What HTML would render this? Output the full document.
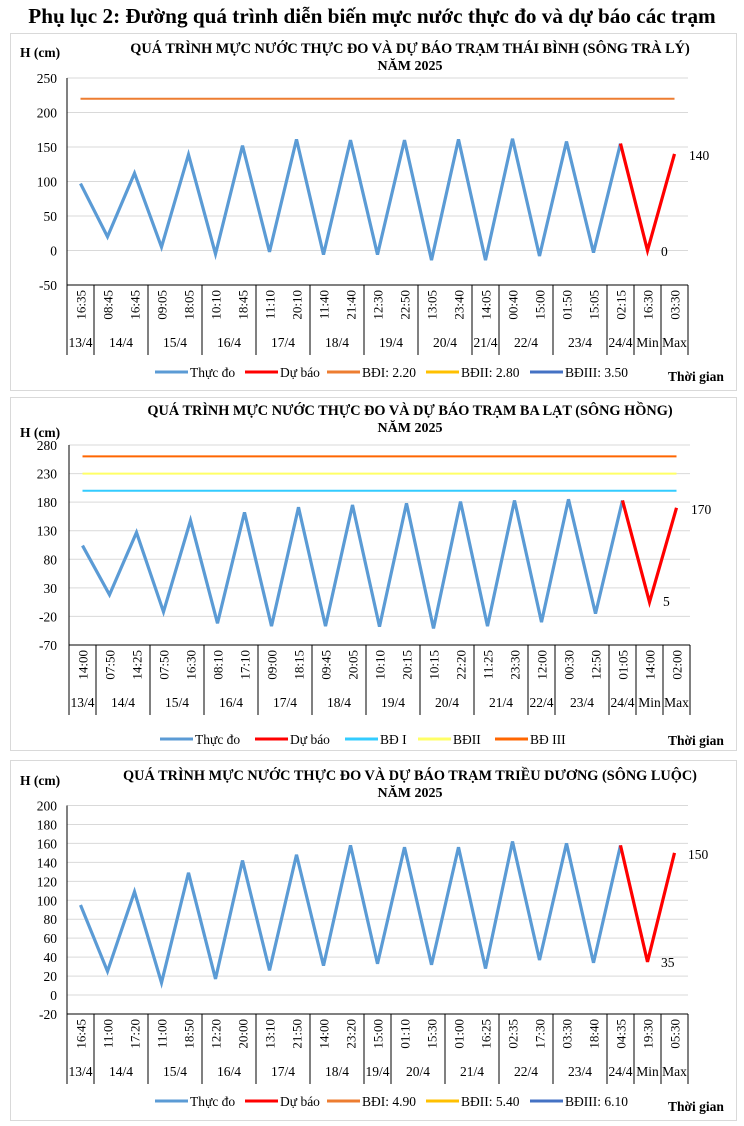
<!DOCTYPE html>
<html><head><meta charset="utf-8"><style>
body{margin:0;background:#fff}
svg{display:block;font-family:"Liberation Serif",serif}
</style></head><body>
<svg id="s" width="744" height="1126" xmlns="http://www.w3.org/2000/svg"></svg>
<script>
const s=document.getElementById('s');let h='';
h+='<rect width="744" height="1126" fill="#fff"/>';
h+='<text x="372" y="23" text-anchor="middle" font-size="21.2" font-weight="bold">Phụ lục 2: Đường quá trình diễn biến mực nước thực đo và dự báo các trạm</text>';
function chart(c){
 const {box,title,pt,pb,x0,x1,ymin,ymax,step,vals,fc,times,groups,lines,legend,lbl,yt}=c;
 h+=`<rect x="10.5" y="${box[0]+.5}" width="726" height="${box[1]-box[0]}" fill="#fff" stroke="#d9d9d9"/>`;
 h+=`<text x="410" y="${title[0]}" text-anchor="middle" font-size="14.3" font-weight="bold">${title[1]}</text>`;
 h+=`<text x="410" y="${title[0]+17}" text-anchor="middle" font-size="14" font-weight="bold">NĂM 2025</text>`;
 h+=`<text x="20" y="${yt}" font-size="13.5" font-weight="bold">H (cm)</text>`;
 const Y=v=>pt+(ymax-v)/(ymax-ymin)*(pb-pt);
 const n=23,w=(x1-x0)/n,X=i=>x0+w*(i+.5);
 for(let v=ymin;v<=ymax;v+=step){const y=Y(v);
  if(v>ymin)h+=`<line x1="${x0}" x2="${x1}" y1="${y}" y2="${y}" stroke="#d9d9d9"/>`;
  h+=`<text x="57" y="${y+5}" text-anchor="end" font-size="13.5">${v}</text>`;}
 h+=`<line x1="${x0}" x2="${x0}" y1="${pt}" y2="${pb}" stroke="#000"/>`;
 h+=`<line x1="${x0}" x2="${x1}" y1="${pb}" y2="${pb}" stroke="#000"/>`;
 for(const [v,col] of lines)h+=`<line x1="${X(0)}" x2="${X(22)}" y1="${Y(v)}" y2="${Y(v)}" stroke="${col}" stroke-width="2"/>`;
 times.forEach((t,i)=>{h+=`<text transform="translate(${X(i)+5},${pb+5}) rotate(-90)" text-anchor="end" font-size="13">${t}</text>`;});
 let k=0;const bot=pb+70;
 h+=`<line x1="${x0}" x2="${x0}" y1="${pb}" y2="${bot}" stroke="#000"/>`;
 groups.forEach(([g,m])=>{const a=x0+k*w;k+=m;const b=x0+k*w;
  h+=`<line x1="${b}" x2="${b}" y1="${pb}" y2="${bot}" stroke="#000"/>`;
  h+=`<text x="${(a+b)/2}" y="${pb+62}" text-anchor="middle" font-size="13.5">${g}</text>`;});
 let p=vals.slice(0,21).map((v,i)=>X(i)+','+Y(v)).join(' ');
 h+=`<polyline points="${p}" fill="none" stroke="#5B9BD5" stroke-width="3.2" stroke-linejoin="miter"/>`;
 h+=`<polyline points="${X(20)},${Y(vals[20])} ${X(21)},${Y(fc[0])} ${X(22)},${Y(fc[1])}" fill="none" stroke="#FF0000" stroke-width="3.2"/>`;
 h+=`<text x="${lbl[0][0]}" y="${lbl[0][1]}" font-size="13.5">${fc[0]}</text>`;
 h+=`<text x="${lbl[1][0]}" y="${lbl[1][1]}" font-size="13.5">${fc[1]}</text>`;
 const ly=legend.y;
 legend.items.forEach(([x,col,t])=>{h+=`<line x1="${x}" x2="${x+33}" y1="${ly}" y2="${ly}" stroke="${col}" stroke-width="3"/><text x="${x+35}" y="${ly+5}" font-size="13.5">${t}</text>`;});
 h+=`<text x="668" y="${legend.ty}" font-size="13.5" font-weight="bold">Thời gian</text>`;
}
chart({box:[33,390],title:[53,'QUÁ TRÌNH MỰC NƯỚC THỰC ĐO VÀ DỰ BÁO TRẠM THÁI BÌNH (SÔNG TRÀ LÝ)'],yt:57,
 pt:78,pb:285,x0:67,x1:688,ymin:-50,ymax:250,step:50,
 vals:[97,20,112,5,139,-5,152,-2,161,-6,160,-6,160,-14,161,-14,162,-8,158,-3,155],fc:[0,140],
 times:['16:35','08:45','16:45','09:05','18:05','10:10','18:45','11:10','20:10','11:40','21:40','12:30','22:50','13:05','23:40','14:05','00:40','15:00','01:50','15:05','02:15','16:30','03:30'],
 groups:[['13/4',1],['14/4',2],['15/4',2],['16/4',2],['17/4',2],['18/4',2],['19/4',2],['20/4',2],['21/4',1],['22/4',2],['23/4',2],['24/4',1],['Min',1],['Max',1]],
 lines:[[220,'#ED7D31']],lbl:[[661,256],[689,160]],
 legend:{y:372,ty:381,items:[[155,'#5B9BD5','Thực đo'],[245,'#FF0000','Dự báo'],[327,'#ED7D31','BĐI: 2.20'],[426,'#FFC000','BĐII: 2.80'],[530,'#4472C4','BĐIII: 3.50']]}});
chart({box:[397,750],title:[415,'QUÁ TRÌNH MỰC NƯỚC THỰC ĐO VÀ DỰ BÁO TRẠM BA LẠT (SÔNG HỒNG)'],yt:437,
 pt:445,pb:645,x0:69,x1:690,ymin:-70,ymax:280,step:50,
 vals:[104,18,127,-12,148,-32,162,-37,171,-37,175,-38,178,-41,181,-37,183,-30,185,-15,183],fc:[5,170],
 times:['14:00','07:50','14:25','07:50','16:30','08:10','17:10','09:00','18:15','09:45','20:05','10:10','20:15','10:15','22:20','11:25','23:30','12:00','00:30','12:50','01:05','14:00','02:00'],
 groups:[['13/4',1],['14/4',2],['15/4',2],['16/4',2],['17/4',2],['18/4',2],['19/4',2],['20/4',2],['21/4',2],['22/4',1],['23/4',2],['24/4',1],['Min',1],['Max',1]],
 lines:[[260,'#FF6600'],[230,'#FFFF66'],[200,'#33CCFF']],lbl:[[663,606],[691,514]],
 legend:{y:739,ty:745,items:[[160,'#5B9BD5','Thực đo'],[255,'#FF0000','Dự báo'],[345,'#33CCFF','BĐ I'],[418,'#FFFF66','BĐII'],[495,'#FF6600','BĐ III']]}});
chart({box:[760,1120],title:[780,'QUÁ TRÌNH MỰC NƯỚC THỰC ĐO VÀ DỰ BÁO TRẠM TRIỀU DƯƠNG  (SÔNG LUỘC)'],yt:785,
 pt:805.5,pb:1014,x0:67,x1:688,ymin:-20,ymax:200,step:20,
 vals:[95,25,109,13,129,17,142,26,148,31,158,33,156,32,156,28,162,37,160,34,158],fc:[35,150],
 times:['16:45','11:00','17:20','11:00','18:50','12:20','20:00','13:10','21:50','14:00','23:20','15:00','01:10','15:30','01:00','16:25','02:35','17:30','03:30','18:40','04:35','19:30','05:30'],
 groups:[['13/4',1],['14/4',2],['15/4',2],['16/4',2],['17/4',2],['18/4',2],['19/4',1],['20/4',2],['21/4',2],['22/4',2],['23/4',2],['24/4',1],['Min',1],['Max',1]],
 lines:[],lbl:[[661,967],[688,859]],
 legend:{y:1101,ty:1111,items:[[155,'#5B9BD5','Thực đo'],[245,'#FF0000','Dự báo'],[327,'#ED7D31','BĐI: 4.90'],[426,'#FFC000','BĐII: 5.40'],[530,'#4472C4','BĐIII: 6.10']]}});
s.innerHTML=h;
</script>
</body></html>
